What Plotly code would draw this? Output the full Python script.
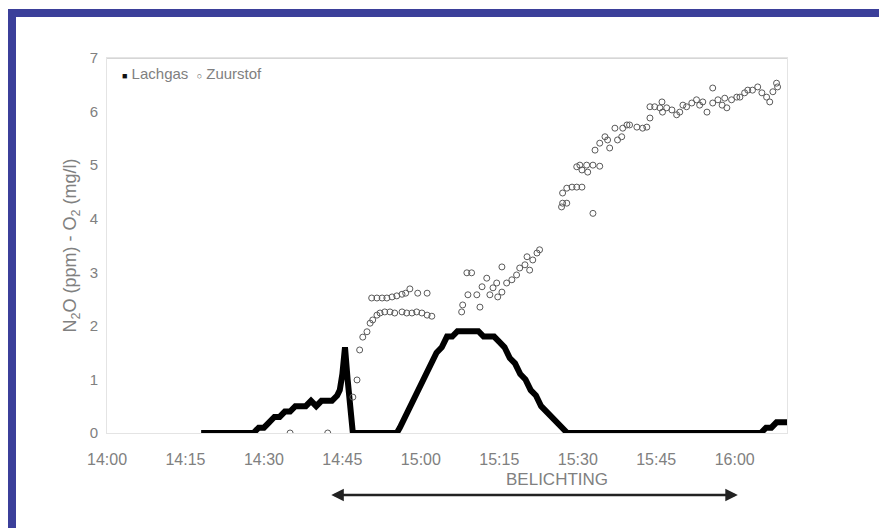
import plotly.graph_objects as go
import pandas as pd

# ---- data (minutes after 14:00) ----
n2o_min = [18, 22, 26, 28, 29, 30, 31, 32, 33, 34, 35, 36, 37, 38, 39, 40, 41, 42, 43, 44,
           44.5, 45, 45.5, 46, 46.5, 47, 50, 53, 55.4,
           56, 57, 58, 59, 60, 61, 62, 63, 64, 65, 66, 67, 68, 69, 70, 71, 72, 73, 74, 75,
           76, 77, 78, 79, 80, 81, 82, 83, 84, 85, 86, 87, 88,
           95, 105, 115, 125, 126, 127, 128, 129, 130]
n2o_val = [0, 0, 0, 0, 0.1, 0.1, 0.2, 0.3, 0.3, 0.4, 0.4, 0.5, 0.5, 0.5, 0.6, 0.5, 0.6, 0.6, 0.6, 0.7,
           0.8, 1.1, 1.6, 1.0, 0.4, 0, 0, 0, 0,
           0.1, 0.3, 0.5, 0.7, 0.95, 1.1, 1.3, 1.5, 1.6, 1.8, 1.8, 1.9, 1.9, 1.9, 1.9, 1.9, 1.8, 1.8, 1.8, 1.7,
           1.6, 1.4, 1.3, 1.1, 1.0, 0.8, 0.7, 0.5, 0.4, 0.3, 0.2, 0.1, 0,
           0, 0, 0, 0, 0.1, 0.1, 0.2, 0.2, 0.2]

o2_min = [35.0, 42.2, 47.0, 47.8, 48.3, 48.9, 49.7, 50.3, 50.8, 51.6, 52.2, 53.1, 54.1, 55.0,
          56.4, 57.3, 58.3, 59.2, 60.2, 61.2, 62.1,
          50.6, 51.6, 52.6, 53.5, 54.5, 55.4, 56.4, 57.1, 57.9, 59.4, 61.2,
          67.8, 68.0, 69.0, 68.8, 69.7, 70.7, 71.3, 71.7, 72.6, 73.2, 73.8, 74.5, 75.5, 74.7,
          75.5, 76.4, 77.4, 78.3, 78.9, 79.9, 80.3, 80.8, 81.4, 82.2, 82.7,
          86.9, 87.1, 87.9, 87.1, 87.9, 88.9, 89.8, 90.8, 92.9, 89.8, 90.4, 91.7, 92.9, 94.2,
          90.8, 91.9, 93.3, 94.2, 95.2, 95.7, 96.1, 97.1, 97.6, 98.4, 98.6, 99.4, 99.9, 101.3,
          102.4, 103.2, 103.8, 103.8, 104.7, 105.7, 106.1, 106.2, 107.0, 108.0, 108.9, 109.5,
          110.1, 110.8, 111.8, 112.7, 113.3, 113.9, 114.7, 115.8, 115.8, 116.8, 117.6, 118.1,
          118.5, 119.4, 120.4, 121.0, 121.9, 122.5, 123.4, 124.4, 125.2, 126.1, 126.7, 127.3,
          128.0, 128.2]
o2_val = [0.0, 0.0, 0.67, 0.99, 1.55, 1.79, 1.89, 2.05, 2.11, 2.20, 2.24, 2.26, 2.26, 2.24,
          2.26, 2.24, 2.24, 2.26, 2.24, 2.20, 2.18,
          2.52, 2.52, 2.52, 2.52, 2.54, 2.56, 2.59, 2.61, 2.69, 2.61, 2.61,
          2.26, 2.39, 2.58, 2.99, 2.99, 2.58, 2.35, 2.73, 2.89, 2.58, 2.71, 2.80, 3.10, 2.54,
          2.63, 2.80, 2.86, 2.95, 3.08, 3.14, 3.29, 3.04, 3.23, 3.36, 3.42,
          4.22, 4.29, 4.29, 4.48, 4.57, 4.59, 4.59, 4.59, 4.10, 4.97, 5.00, 5.00, 5.00, 4.98,
          4.91, 4.87, 5.28, 5.41, 5.53, 5.47, 5.32, 5.69, 5.47, 5.53, 5.69, 5.75, 5.75, 5.71,
          5.69, 5.71, 5.88, 6.09, 6.09, 6.07, 6.18, 5.99, 6.07, 6.03, 5.94, 5.99,
          6.12, 6.09, 6.16, 6.22, 6.12, 6.18, 5.99, 6.44, 6.16, 6.22, 6.12, 6.25,
          6.07, 6.22, 6.27, 6.27, 6.35, 6.40, 6.40, 6.46, 6.35, 6.27, 6.18, 6.37,
          6.53, 6.46]

x_range_min = [0, 130]
x_tick_labels = ["14:00", "14:15", "14:30", "14:45", "15:00", "15:15", "15:30", "15:45", "16:00"]
y_ticks = [0, 1, 2, 3, 4, 5, 6, 7]
series_names = ["Lachgas", "Zuurstof"]
arrow_min = [42.6, 120.6]
arrow_label = "BELICHTING"

base = pd.Timestamp("2024-01-01 14:00:00")
to_t = lambda mins: [base + pd.Timedelta(minutes=m) for m in mins]

fig = go.Figure()
fig.add_trace(go.Scatter(
    x=to_t(n2o_min), y=n2o_val, mode="lines", name=series_names[0],
    line=dict(color="black", width=6), showlegend=False))
fig.add_trace(go.Scatter(
    x=to_t(o2_min), y=o2_val, mode="markers", name=series_names[1], showlegend=False,
    marker=dict(symbol="circle-open", size=6, color="#5a5a5a", line=dict(width=1))))

BLUE = "#3b3f9a"
OFF = 8  # default page body margin
W, H = 887 - OFF, 528 - OFF
L, R, T, B = 107 - OFF, 100, 58 - OFF, 95
pw, ph = W - L - R, H - T - B
px = lambda v: (v - OFF - L) / pw          # page x -> paper
py = lambda v: (H - B - (v - OFF)) / ph    # page y -> paper

shapes = [
    dict(type="rect", xref="paper", yref="paper", x0=px(8), x1=px(887), y0=py(17), y1=py(9),
         fillcolor=BLUE, line=dict(width=0), layer="above"),
    dict(type="rect", xref="paper", yref="paper", x0=px(8), x1=px(16), y0=py(528), y1=py(9),
         fillcolor=BLUE, line=dict(width=0), layer="above"),
    dict(type="line", xref="paper", yref="y", x0=0, x1=1, y0=7, y1=7,
         line=dict(color="#d6d6d6", width=2)),
]

tickvals = to_t([0, 15, 30, 45, 60, 75, 90, 105, 120])
arr = to_t(arrow_min)
TXT = "#808080"

fig.update_layout(
    width=W, height=H, margin=dict(l=L, r=R, t=T, b=B),
    paper_bgcolor="white", plot_bgcolor="white",
    font=dict(family="Liberation Sans, Arial, sans-serif", size=16, color=TXT),
    shapes=shapes,
    showlegend=False,
    xaxis=dict(type="date", range=to_t(x_range_min), tickvals=tickvals, ticktext=x_tick_labels,
               showgrid=False, showline=True, linecolor="#e4e4e4", linewidth=1, mirror=True,
               ticks="", zeroline=False, ticklabelstandoff=12,
               tickfont=dict(size=16, color=TXT)),
    yaxis=dict(range=[0, 7], tickvals=y_ticks, showgrid=False, showline=True,
               linecolor="#e4e4e4", linewidth=1, mirror=True, ticks="", zeroline=False,
               ticklabelstandoff=5, tickfont=dict(size=15, color=TXT),
               title=dict(text="N<sub>2</sub>O (ppm) - O<sub>2</sub> (mg/l)", standoff=8,
                          font=dict(size=18, color=TXT))),
    annotations=[
        dict(x=arr[1], y=py(495), xref="x", yref="paper", ax=arr[0], ay=0,
             axref="x", ayref="pixel", showarrow=True, arrowside="end+start",
             arrowhead=2, arrowsize=1, arrowwidth=2.5, arrowcolor="#222222", text=""),
        dict(x=px(557), y=py(479), xref="paper", yref="paper", yanchor="middle",
             text=arrow_label, showarrow=False, font=dict(size=17, color=TXT)),
        dict(x=px(120), y=py(74), xref="paper", yref="paper", xanchor="left", yanchor="middle",
             text=("<span style='font-size:9px;color:#111'>■</span> " + series_names[0] +
                   "  <span style='font-size:9px;color:#555'>○</span> " + series_names[1]),
             showarrow=False, font=dict(size=15, color=TXT)),
    ],
)

fig.write_html("out.html")
